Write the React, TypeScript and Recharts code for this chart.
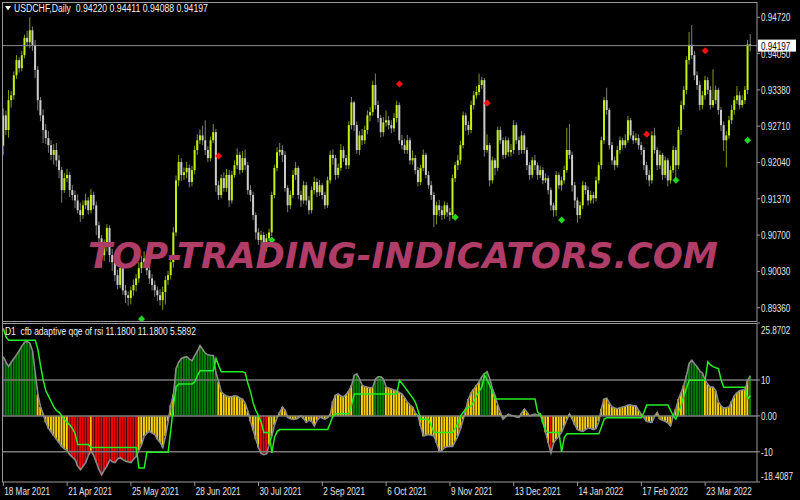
import React from 'react';
import { ComposedChart, Bar, Line, XAxis, YAxis, ReferenceLine, Cell } from 'recharts';

// USDCHF daily prices in pips (0.0001)
const firstOpen = 9235;
const closes = [
  9291, 9264, 9319, 9328, 9365, 9393, 9378, 9402, 9434, 9426,
  9448, 9421, 9375, 9319, 9291, 9264, 9249, 9236, 9218, 9227,
  9208, 9190, 9153, 9175, 9181, 9153, 9144, 9134, 9116, 9107,
  9125, 9134, 9116, 9144, 9125, 9088, 9064, 9033, 9051, 9083,
  9033, 9020, 8996, 8978, 9009, 8968, 8959, 8954, 8968, 8978,
  8990, 9009, 9020, 9027, 9005, 8990, 8978, 8968, 8959, 8950,
  8965, 8987, 8996, 9020, 9075, 9171, 9205, 9181, 9186, 9194,
  9168, 9190, 9227, 9245, 9254, 9245, 9227, 9212, 9245, 9260,
  9162, 9144, 9175, 9157, 9181, 9134, 9181, 9199, 9218, 9190,
  9212, 9199, 9153, 9144, 9107, 9075, 9061, 9070, 9046, 9064,
  9075, 9144, 9194, 9223, 9227, 9218, 9157, 9125, 9144, 9181,
  9194, 9144, 9134, 9162, 9134, 9116, 9153, 9168, 9149, 9162,
  9144, 9125, 9171, 9218, 9212, 9181, 9194, 9227, 9212, 9199,
  9273, 9315, 9273, 9227, 9254, 9245, 9264, 9291, 9297, 9347,
  9310, 9286, 9260, 9278, 9282, 9273, 9267, 9286, 9310, 9245,
  9236, 9227, 9245, 9208, 9212, 9190, 9168, 9194, 9218, 9181,
  9162, 9144, 9107, 9125, 9116, 9107, 9125, 9112, 9107, 9175,
  9199, 9208, 9236, 9291, 9273, 9264, 9310, 9328, 9334, 9347,
  9356, 9227, 9236, 9171, 9208, 9194, 9264, 9245, 9218, 9245,
  9223, 9227, 9273, 9245, 9227, 9254, 9227, 9199, 9181, 9208,
  9199, 9181, 9190, 9171, 9175, 9153, 9125, 9116, 9181, 9162,
  9171, 9190, 9227, 9218, 9162, 9134, 9107, 9125, 9162, 9153,
  9134, 9144, 9138, 9171, 9199, 9245, 9319, 9301, 9236, 9208,
  9199, 9227, 9245, 9236, 9245, 9282, 9254, 9245, 9249, 9236,
  9227, 9199, 9181, 9171, 9254, 9227, 9199, 9218, 9181, 9208,
  9171, 9190, 9227, 9199, 9264, 9310, 9338, 9393, 9421, 9402,
  9365, 9347, 9310, 9328, 9356, 9338, 9310, 9319, 9338, 9301,
  9273, 9245, 9254, 9282, 9301, 9319, 9328, 9310, 9319, 9338,
  9422.0, 9419.7,
];
const highs = [
  9304, 9300, 9338, 9336, 9372, 9402, 9398, 9410, 9440, 9447,
  9472, 9455, 9430, 9382, 9325, 9302, 9275, 9262, 9245, 9238,
  9240, 9218, 9196, 9185, 9192, 9186, 9162, 9152, 9145, 9130,
  9134, 9146, 9140, 9155, 9150, 9132, 9095, 9070, 9062, 9090,
  9088, 9045, 9030, 9006, 9016, 9014, 8978, 8966, 8975, 8988,
  8998, 9020, 9032, 9040, 9034, 9012, 8998, 8986, 8975, 8970,
  8975, 8995, 9004, 9030, 9085, 9180, 9218, 9212, 9195, 9205,
  9200, 9198, 9235, 9256, 9265, 9272, 9282, 9234, 9252, 9275,
  9266, 9170, 9182, 9186, 9192, 9190, 9188, 9208, 9230, 9224,
  9225, 9228, 9205, 9162, 9150, 9112, 9083, 9078, 9076, 9072,
  9082, 9150, 9200, 9232, 9240, 9236, 9225, 9162, 9152, 9190,
  9205, 9198, 9152, 9170, 9168, 9142, 9160, 9178, 9175, 9172,
  9166, 9150, 9178, 9226, 9228, 9218, 9202, 9238, 9234, 9218,
  9280, 9325, 9318, 9280, 9262, 9266, 9272, 9300, 9306, 9355,
  9368, 9318, 9292, 9288, 9300, 9290, 9282, 9295, 9318, 9315,
  9255, 9248, 9255, 9250, 9226, 9218, 9196, 9200, 9228, 9222,
  9188, 9170, 9150, 9132, 9135, 9124, 9132, 9130, 9120, 9182,
  9205, 9218, 9244, 9298, 9296, 9280, 9318, 9336, 9345, 9368,
  9362, 9360, 9256, 9240, 9215, 9212, 9270, 9270, 9250, 9252,
  9250, 9238, 9282, 9278, 9252, 9262, 9258, 9232, 9205, 9214,
  9218, 9204, 9198, 9195, 9184, 9180, 9158, 9130, 9188, 9186,
  9178, 9198, 9268, 9275, 9224, 9168, 9140, 9132, 9170, 9168,
  9160, 9152, 9150, 9178, 9205, 9252, 9325, 9342, 9305, 9242,
  9215, 9235, 9252, 9250, 9256, 9290, 9286, 9262, 9258, 9256,
  9242, 9232, 9205, 9190, 9262, 9268, 9232, 9226, 9222, 9215,
  9212, 9198, 9235, 9232, 9270, 9318, 9345, 9400, 9445, 9458,
  9410, 9372, 9355, 9336, 9364, 9362, 9345, 9376, 9346, 9342,
  9306, 9280, 9262, 9290, 9310, 9326, 9345, 9335, 9328, 9345,
  9430, 9441.1,
];
const lows = [
  9218, 9255, 9250, 9305, 9320, 9358, 9370, 9372, 9396, 9418,
  9415, 9410, 9360, 9300, 9280, 9240, 9238, 9222, 9208, 9200,
  9196, 9175, 9130, 9148, 9168, 9140, 9134, 9120, 9110, 9094,
  9100, 9118, 9108, 9110, 9118, 9070, 9055, 9010, 9022, 9040,
  9020, 9004, 8985, 8970, 8972, 8960, 8945, 8940, 8942, 8958,
  8966, 8982, 9000, 9012, 8996, 8980, 8968, 8956, 8948, 8940,
  8932, 8942, 8978, 8988, 9010, 9068, 9160, 9170, 9172, 9175,
  9158, 9160, 9182, 9218, 9238, 9236, 9218, 9205, 9206, 9240,
  9150, 9135, 9138, 9150, 9150, 9122, 9128, 9176, 9192, 9182,
  9185, 9190, 9145, 9132, 9098, 9062, 9052, 9045, 9036, 9040,
  9058, 9068, 9138, 9188, 9216, 9205, 9150, 9112, 9118, 9138,
  9172, 9136, 9122, 9128, 9125, 9108, 9110, 9145, 9140, 9142,
  9136, 9118, 9120, 9165, 9200, 9172, 9175, 9188, 9205, 9192,
  9192, 9265, 9262, 9220, 9218, 9236, 9238, 9256, 9280, 9290,
  9302, 9278, 9250, 9252, 9270, 9265, 9258, 9260, 9278, 9238,
  9228, 9220, 9220, 9200, 9200, 9182, 9160, 9162, 9188, 9175,
  9155, 9135, 9085, 9090, 9105, 9098, 9100, 9104, 9096, 9100,
  9168, 9190, 9200, 9230, 9262, 9255, 9258, 9302, 9322, 9328,
  9340, 9215, 9222, 9160, 9165, 9180, 9188, 9238, 9210, 9212,
  9215, 9215, 9220, 9238, 9218, 9220, 9220, 9190, 9172, 9175,
  9190, 9172, 9175, 9164, 9166, 9145, 9115, 9104, 9105, 9155,
  9152, 9165, 9185, 9210, 9150, 9120, 9093, 9100, 9118, 9145,
  9125, 9128, 9128, 9132, 9165, 9192, 9238, 9292, 9228, 9200,
  9190, 9195, 9220, 9228, 9230, 9240, 9248, 9238, 9240, 9228,
  9218, 9190, 9172, 9160, 9165, 9220, 9190, 9192, 9172, 9175,
  9160, 9165, 9185, 9172, 9192, 9255, 9302, 9330, 9385, 9395,
  9356, 9338, 9300, 9302, 9320, 9330, 9302, 9305, 9312, 9292,
  9262, 9225, 9195, 9248, 9275, 9292, 9312, 9302, 9305, 9312,
  9330, 9408.8,
];

// arrow signals (bar index, price in pips)
const sellIdx = [81, 149, 182, 242, 264];
const sellPrice = [9216, 9349, 9314, 9256, 9410];
const buyIdx = [52, 101, 170, 210, 253, 280];
const buyPrice = [8915, 9061, 9103, 9098, 9171, 9245];

// cfb adaptive qqe of rsi
const qqe = [
  16.5, 15, 13.7, 15, 16, 17, 18.2, 19.5, 20.5, 20.7,
  20.2, 18, 12, 6, 2.5, 0.5, -1.8, -3.5, -4.5, -5.5,
  -6.5, -7.5, -8.5, -9.2, -9.6, -10.8, -11.5, -12.2, -14, -15,
  -14, -13, -11, -9.8, -11, -13, -15, -16.4, -15, -14,
  -12.2, -12.8, -13, -12, -11.6, -12.2, -12.6, -12.8, -13, -12,
  -11.3, -9.5, -8, -5.6, -4.8, -4.3, -4.8, -5.2, -6.5, -7.4,
  -8.8, -5.6, -1.5, 3, 6, 13.2, 15, 16, 16.3, 16.5,
  15.8, 15.4, 16.8, 18, 19.6, 18.5, 17.4, 17, 16.8, 16.8,
  12, 9.5, 6.7, 6, 5.5, 5.3, 5.4, 5.6, 5.5, 5,
  4.7, 3.5, 1.3, -1.5, -4, -6.5, -8.8, -10.5, -10.8, -10.6,
  -8, -5.6, -2.5, -0.5, 1, 2.5, 1.5, -0.4, -0.8, -1,
  -0.9, -0.5, 0, -0.8, -1.8, -1.2, -1.5, -2.8, -1.2, -0.4,
  -0.6, -0.9, -0.5, 0.5, 4, 5.8, 6.1, 5.5, 5.3, 6,
  7, 8.5, 11.3, 11.7, 10.2, 8.5, 8.2, 8, 7.8, 8,
  10.3, 10.9, 10.9, 10.2, 8, 7.8, 7.5, 7.2, 7, 6.5,
  6.1, 5, 3.8, 3, 2.5, 0.8, 0, -2.8, -5.6, -5.4,
  -5.2, -5.4, -5.6, -7.5, -9.9, -9.6, -8.8, -8.6, -8.5, -8.5,
  -7, -5.6, -3.5, -0.9, 2, 4.7, 6.5, 7.5, 8.5, 9.5,
  10.9, 11.8, 12.3, 10.3, 7.5, 5.6, 3, 1, -0.9, -0.2,
  0.5, 0.2, 0, -0.3, -0.4, 0.8, 1.9, 1, 0, 0.3,
  0.5, 0.2, 0.5, -1.8, -4.6, -7.5, -10.3, -7.5, -6.5, -5.6,
  -4.5, -2.8, -1, 0.5, -0.9, -2.5, -3.8, -4.1, -4.3, -3.8,
  -3.3, -3.5, -3.8, -3.5, -1.5, 2, 4.7, 4.9, 3.5, 2.5,
  2.2, 2, 2.3, 2.5, 2.7, 3, 3, 2.8, 2.8, 1.5,
  0.5, -0.5, -1.5, -1.7, -1.8, 0, 1, -0.9, -1.2, -1.5,
  -2, -2.8, 0, 2, 4.7, 6.5, 8.5, 11.3, 14.6, 15.5,
  14.5, 13.6, 12.5, 11.9, 9.9, 8.8, 8, 8, 7, 3.8,
  2.8, 2.2, 2.3, 2.5, 4, 5.6, 6.5, 7, 7.2, 7.2,
  9.9, 11.18,
];
const signal = [
  24.4, 22, 21.1, 21.1, 21.1, 21.1, 21.1, 21.1, 21.1, 21.1,
  21.1, 21.1, 21.1, 18.5, 14, 10, 7, 5.5, 4, 2.5,
  1.5, 1, 0, -1, -1.8, -2.5, -3.5, -5, -8, -8,
  -8, -8, -8, -8.8, -8.8, -8.8, -8.8, -8.8, -8.8, -8.8,
  -8.8, -8.8, -8.8, -8.8, -8.8, -8.8, -8.8, -8.8, -8.8, -8.8,
  -8.8, -14.5, -14.5, -14.5, -10.1, -10.1, -10.1, -10.1, -10.1, -10.1,
  -10.1, -10.1, -10.1, -3.8, 2.7, 8.1, 8.9, 8.9, 8.9, 8.9,
  8.9, 8.9, 9.5, 11.2, 12.6, 12.6, 12.6, 12.6, 12.6, 12.6,
  16, 14, 12.3, 12.3, 12.3, 12.3, 12.3, 12.3, 12.3, 12.3,
  12.3, 12, 9, 6.7, 3.5, 1.5, 0, -1.8, -4.6, -4.6,
  -4.6, -10.3, -6, -4.3, -3.8, -3.8, -3.8, -3.8, -3.8, -3.8,
  -3.8, -3.8, -3.8, -3.8, -3.8, -3.8, -3.8, -3.8, -3.8, -3.8,
  -3.8, -3.8, -3.8, -2, 0, 0.6, 0.6, 0.6, 0.6, 0.6,
  0.6, 3, 6.1, 6.1, 6.1, 6.1, 6.1, 6.1, 6.1, 6.1,
  6.1, 6.1, 6.1, 6.1, 6.1, 6.1, 6.1, 6.1, 6.1, 9.9,
  9, 8, 7, 6, 5, 3.8, 1.5, -0.9, -0.9, -0.9,
  -0.9, -2.8, -4.6, -4.6, -4.6, -4.6, -4.6, -4.6, -4.6, -4.6,
  -3.5, -2, 0, 1, 1.9, 2.4, 2.8, 4, 5.6, 6.8,
  8, 11.3, 10, 8.5, 6.5, 4.7, 4.7, 4.7, 4.7, 4.7,
  4.7, 4.7, 4.7, 4.7, 4.7, 4.7, 4.7, 4.7, 4.7, 4.7,
  4.7, 1, 0.5, -2, -4, -4.6, -4.6, -4.6, -4.6, -4.6,
  -10, -6, -5, -5, -5, -5, -5, -5, -5, -5,
  -5, -5, -5, -5, -5, -3, -0.9, -0.5, -0.5, -0.5,
  -0.5, -0.5, -0.5, -0.5, -0.5, -0.5, -0.5, -0.5, -0.5, -0.5,
  -0.5, 1, 3, 3, 3, 3, 3, 3, 3, 3,
  3, 1.5, 0, -0.9, 1, 3, 5.6, 7.8, 9.9, 9.9,
  9.9, 9.9, 9.9, 9.9, 9.9, 15.1, 14.2, 13.7, 13.4, 13.2,
  10, 8, 8, 8, 8, 8, 8, 8, 8, 8,
  4.7, 5.5892,
];

const dateIdx = [0, 24, 48, 72, 96, 120, 144, 168, 192, 216, 240, 264];
const dateLabels = ['18 Mar 2021', '21 Apr 2021', '25 May 2021', '28 Jun 2021', '30 Jul 2021', '2 Sep 2021',
  '6 Oct 2021', '9 Nov 2021', '13 Dec 2021', '14 Jan 2022', '17 Feb 2022', '23 Mar 2022'];
const priceTicks = [0.8936, 0.9003, 0.907, 0.9137, 0.9204, 0.9271, 0.9338, 0.9405, 0.9472];
const qqeTicks = [25.8702, 10, 0, -10, -18.4087];
const qqeTickLabels = ['25.8702', '10', '0.00', '-10', '-18.4087'];
const qqeLevels = [10, 0, -10];

const FONT = "'Liberation Sans', Arial, sans-serif";
const GRID = '#9a9a9a';
const N = closes.length;

const rows = Array.from({ length: N + 2 }, (_, i) => {
  if (i >= N) return { i };
  const o = (i === 0 ? firstOpen : closes[i - 1]) / 1e4;
  const c = closes[i] / 1e4;
  const h = highs[i] / 1e4;
  const l = lows[i] / 1e4;
  const si = sellIdx.indexOf(i);
  const bi = buyIdx.indexOf(i);
  return {
    i, o, h, l, c,
    range: [l, h],
    sell: si >= 0 ? sellPrice[si] / 1e4 : null,
    buy: bi >= 0 ? buyPrice[bi] / 1e4 : null,
    qqe: qqe[i],
    sig: signal[i],
  };
});
const last = rows[N - 1] as any;

function T({ x, y, children, fill = '#e4e4e4', size = 11, sx = 0.74 }: any) {
  return (
    <text transform={`translate(${x},${y}) scale(${sx},1)`} fill={fill} fontSize={size}
      fontFamily={FONT} style={{ whiteSpace: 'pre' }}>
      {children}
    </text>
  );
}

const Candle = (props: any) => {
  const { x, y, width, height, payload } = props;
  if (!payload || payload.range == null) return <g />;
  const { o, h, l, c } = payload;
  const top = Math.min(y, y + height);
  const hgt = Math.max(Math.abs(height), 1);
  const k = hgt / (h - l || 1);
  const cx = x + width / 2;
  const bull = c >= o;
  const bTop = top + (h - Math.max(o, c)) * k;
  const bH = Math.max(1, Math.abs(o - c) * k);
  return (
    <g>
      <rect x={cx - 0.5} y={top} width={1} height={hgt} fill={bull ? '#7f9a00' : '#7c7c7c'} />
      <rect x={cx - 1} y={bTop} width={2} height={bH} fill={bull ? '#c2f20c' : '#cbcbcb'} />
    </g>
  );
};

const diamond = (color: string) => (props: any) => {
  const { cx, cy, value, index } = props;
  if (value == null || cx == null || cy == null) return <g key={index} />;
  return <path key={index} d={`M${cx},${cy - 3.5}L${cx + 3.5},${cy}L${cx},${cy + 3.5}L${cx - 3.5},${cy}Z`} fill={color} />;
};

const PriceTick = (props: any) => <T x={props.x} y={props.y + 4}>{props.payload.value.toFixed(5)}</T>;

const QqeTick = (props: any) => {
  const v = props.payload.value;
  const k = qqeTicks.indexOf(v);
  const dy = k === 0 ? 11 : k === qqeTicks.length - 1 ? -2 : 4;
  return <T x={props.x} y={props.y + dy}>{qqeTickLabels[k]}</T>;
};

const DateTick = (props: any) => {
  const k = dateIdx.indexOf(props.payload.value);
  return <T x={props.x + 1} y={props.y + 7}>{dateLabels[k]}</T>;
};

const BidLabel = (props: any) => {
  const vb = props.viewBox || {};
  const x = vb.x + vb.width;
  const y = vb.y;
  return (
    <g>
      <rect x={x + 1} y={y - 6} width={38} height={12} fill="#ffffff" />
      <T x={x + 4} y={y + 4} fill="#000000">{props.text}</T>
    </g>
  );
};

const qqeColor = (v: number) => (v > 10 ? '#008000' : v < -10 ? '#f00000' : '#ffd200');

export default function App() {
  return (
    <div style={{ position: 'fixed', left: 0, top: 0, width: 800, height: 500, background: '#000', overflow: 'hidden' }}>
      <div style={{ position: 'absolute', left: 0, top: 0 }}>
        <ComposedChart width={800} height={322} data={rows} margin={{ top: 2, right: 0, bottom: 0, left: 2 }}
          barCategoryGap={0} barGap={0}>
          <XAxis dataKey="i" type="category" hide />
          <YAxis orientation="right" width={43} domain={[0.89096, 0.95002]} ticks={priceTicks} interval={0}
            allowDataOverflow tick={<PriceTick />} tickSize={3} tickMargin={1}
            axisLine={{ stroke: GRID }} tickLine={{ stroke: GRID }} />
          <Bar dataKey="range" shape={<Candle />} isAnimationActive={false} barSize={3} />
          <ReferenceLine y={last.c} stroke="#8c8c8c" label={<BidLabel text={last.c.toFixed(5)} />} />
          <Line dataKey="sell" stroke="none" dot={diamond('#ff1010')} activeDot={false} isAnimationActive={false} />
          <Line dataKey="buy" stroke="none" dot={diamond('#22d822')} activeDot={false} isAnimationActive={false} />
        </ComposedChart>
      </div>
      <div style={{ position: 'absolute', left: 0, top: 322 }}>
        <ComposedChart width={800} height={178} data={rows} margin={{ top: 1, right: 0, bottom: 0, left: 2 }}
          barCategoryGap={0} barGap={0}>
          <XAxis dataKey="i" type="category" ticks={dateIdx} interval={0} height={18} tick={<DateTick />}
            tickSize={4} tickMargin={2} axisLine={{ stroke: GRID }} tickLine={{ stroke: GRID }} />
          <YAxis orientation="right" width={43} domain={[-18.4087, 25.8702]} ticks={qqeTicks} interval={0}
            allowDataOverflow tick={<QqeTick />} tickSize={3} tickMargin={1}
            axisLine={{ stroke: GRID }} tickLine={{ stroke: GRID }} />
          <Bar dataKey="qqe" barSize={2} isAnimationActive={false}>
            {rows.map((r: any, i) => <Cell key={i} fill={qqeColor(r.qqe ?? 0)} />)}
          </Bar>
          {qqeLevels.map((v) => <ReferenceLine key={v} y={v} stroke="#7a7a7a" strokeWidth={1.5} />)}
          <Line dataKey="qqe" type="linear" stroke="#8a8a8a" strokeWidth={1.6} dot={false} activeDot={false} isAnimationActive={false} />
          <Line dataKey="sig" type="linear" stroke="#22ee22" strokeWidth={1.5} dot={false} activeDot={false} isAnimationActive={false} />
        </ComposedChart>
      </div>
      <svg width={800} height={500} style={{ position: 'absolute', left: 0, top: 0, pointerEvents: 'none' }}>
        <line x1={2} x2={757} y1={2.5} y2={2.5} stroke={GRID} />
        <line x1={2.5} x2={2.5} y1={2} y2={482} stroke={GRID} />
        <line x1={2} x2={757} y1={321.5} y2={321.5} stroke={GRID} />
        <line x1={2} x2={757} y1={323.5} y2={323.5} stroke={GRID} />
        <text x={88} y={268} fill="#b03c68" fontSize={36} fontWeight="bold" fontStyle="italic"
          fontFamily="'DejaVu Sans', sans-serif" textLength={630} lengthAdjust="spacingAndGlyphs">
          TOP-TRADING-INDICATORS.COM
        </text>
        <polygon points="5,6 11,6 8,10.5" fill="#f0f0f0" />
        <T x={14} y={12} fill="#f0f0f0" sx={0.79}>
          {`USDCHF,Daily  ${last.o.toFixed(5)} ${last.h.toFixed(5)} ${last.l.toFixed(5)} ${last.c.toFixed(5)}`}
        </T>
        <T x={5} y={335} fill="#f0f0f0" sx={0.77}>
          {`D1  cfb adaptive qqe of rsi ${qqe[N - 1].toFixed(4)} ${qqe[N - 1].toFixed(4)} ${signal[N - 1].toFixed(4)}`}
        </T>
      </svg>
    </div>
  );
}
